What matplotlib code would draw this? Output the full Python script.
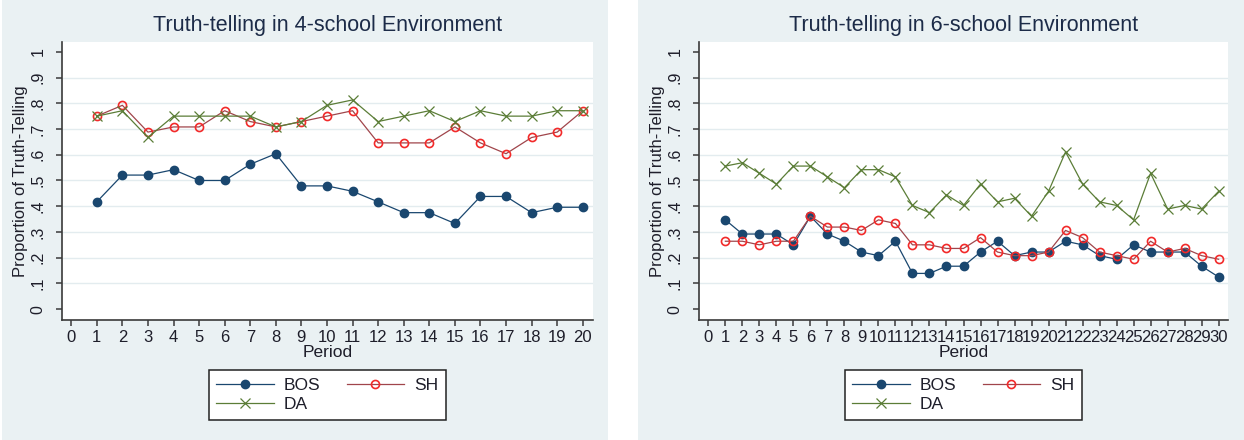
import matplotlib
matplotlib.use("Agg")
import matplotlib.pyplot as plt
from matplotlib.patches import Rectangle

# ---------------- data ----------------
periods4 = list(range(1, 21))
bos4 = [0.417, 0.521, 0.521, 0.542, 0.500, 0.500, 0.563, 0.604, 0.479, 0.479,
        0.458, 0.417, 0.375, 0.375, 0.333, 0.438, 0.438, 0.375, 0.396, 0.396]
sh4 = [0.750, 0.792, 0.688, 0.708, 0.708, 0.771, 0.729, 0.708, 0.729, 0.750,
       0.771, 0.646, 0.646, 0.646, 0.708, 0.646, 0.604, 0.667, 0.688, 0.771]
da4 = [0.750, 0.771, 0.667, 0.750, 0.750, 0.750, 0.750, 0.708, 0.729, 0.792,
       0.813, 0.729, 0.750, 0.771, 0.729, 0.771, 0.750, 0.750, 0.771, 0.771]

periods6 = list(range(1, 31))
bos6 = [0.347, 0.292, 0.292, 0.292, 0.250, 0.361, 0.292, 0.264, 0.222, 0.208,
        0.264, 0.139, 0.139, 0.167, 0.167, 0.222, 0.264, 0.208, 0.222, 0.222,
        0.264, 0.250, 0.208, 0.194, 0.250, 0.222, 0.222, 0.222, 0.167, 0.125]
sh6 = [0.264, 0.264, 0.250, 0.264, 0.264, 0.361, 0.319, 0.319, 0.306, 0.347,
       0.333, 0.250, 0.250, 0.236, 0.236, 0.278, 0.222, 0.208, 0.208, 0.222,
       0.306, 0.278, 0.222, 0.208, 0.194, 0.264, 0.222, 0.236, 0.208, 0.194]
da6 = [0.556, 0.569, 0.528, 0.486, 0.556, 0.556, 0.514, 0.472, 0.542, 0.542,
       0.514, 0.403, 0.375, 0.444, 0.403, 0.486, 0.417, 0.431, 0.361, 0.458,
       0.611, 0.486, 0.417, 0.403, 0.347, 0.528, 0.389, 0.403, 0.389, 0.458]

titles = ["Truth-telling in 4-school Environment",
          "Truth-telling in 6-school Environment"]
series_names = ["BOS", "SH", "DA"]
ytick_vals = [0, 0.1, 0.2, 0.3, 0.4, 0.5, 0.6, 0.7, 0.8, 0.9, 1.0]
ytick_labels = ["0", ".1", ".2", ".3", ".4", ".5", ".6", ".7", ".8", ".9", "1"]

# ---------------- style ----------------
plt.rcParams["font.family"] = ["Liberation Sans", "DejaVu Sans"]
BG = "#eaf1f3"
GRID = "#e3ecef"
AXC = "#3a3a3a"
TXT = "#1e1e2a"
TITLEC = "#1c2b48"
C_BOS = "#1a476f"
C_SH_LINE = "#a0454b"
C_SH_MK = "#f22a2a"
C_DA = "#5b7d37"

W, H = 1244, 440
fig = plt.figure(figsize=(W / 100, H / 100), dpi=100)
fig.patch.set_facecolor("white")

# panel backgrounds
fig.add_artist(Rectangle((2 / W, 0), (608 - 2) / W, 1, transform=fig.transFigure,
                         facecolor=BG, edgecolor="none", zorder=0))
fig.add_artist(Rectangle((638 / W, 0), (W - 638) / W, 1, transform=fig.transFigure,
                         facecolor=BG, edgecolor="none", zorder=0))

panels = [
    dict(px=(62, 593), xlim=(-0.36, 20.4), x=periods4, bos=bos4, sh=sh4, da=da4,
         nt=20, title=titles[0]),
    dict(px=(699, 1228), xlim=(-0.55, 30.55), x=periods6, bos=bos6, sh=sh6, da=da6,
         nt=30, title=titles[1]),
]
top_px, bot_px = 42, 320

for p in panels:
    x0, x1 = p["px"]
    ax = fig.add_axes([x0 / W, 1 - bot_px / H, (x1 - x0) / W, (bot_px - top_px) / H])
    ax.set_facecolor("white")
    ax.set_xlim(*p["xlim"])
    ax.set_ylim(-0.042, 1.038)
    for g in ytick_vals[1:-1]:
        ax.axhline(g, color=GRID, lw=1.0, zorder=0.5)

    l1, = ax.plot(p["x"], p["bos"], color=C_BOS, lw=0.9, marker="o", ms=6,
                  mfc=C_BOS, mec=C_BOS, zorder=3, label=series_names[0])
    l2, = ax.plot(p["x"], p["sh"], color=C_SH_LINE, lw=0.9, marker="o", ms=5.8,
                  mfc="none", mec=C_SH_MK, mew=1.2, zorder=4, label=series_names[1])
    l3, = ax.plot(p["x"], p["da"], color=C_DA, lw=0.9, marker="x", ms=6.5,
                  mec=C_DA, mew=0.9, zorder=5, label=series_names[2])

    for s in ["top", "right"]:
        ax.spines[s].set_visible(False)
    for s in ["left", "bottom"]:
        ax.spines[s].set_color(AXC)
        ax.spines[s].set_linewidth(1.2)

    ax.set_yticks(ytick_vals)
    ax.set_yticklabels(ytick_labels, rotation=90, va="center")
    ax.set_xticks(list(range(0, p["nt"] + 1)))
    ax.tick_params(axis="both", direction="out", length=4, width=1.1, color=AXC)
    ax.tick_params(axis="y", labelsize=11.5, pad=8, labelcolor=TXT)
    ax.tick_params(axis="x", labelsize=12, pad=3, labelcolor=TXT)

    ax.set_xlabel("Period", fontsize=12.5, color=TXT, labelpad=0)
    ax.set_ylabel("Proportion of Truth-Telling", fontsize=12, color=TXT, labelpad=2)
    ax.set_title(p["title"], fontsize=15.5, color=TITLEC, pad=8)

    cx = (x0 + x1) / 2 / W
    leg = fig.legend([l1, l3, l2], [series_names[0], series_names[2], series_names[1]],
                     ncol=2, loc="center", bbox_to_anchor=(cx, 1 - 395 / H),
                     bbox_transform=fig.transFigure, frameon=True, fancybox=False,
                     edgecolor="#222222", facecolor="white", framealpha=1,
                     fontsize=12.5, handlelength=3.3, handletextpad=0.6,
                     columnspacing=1.5, labelspacing=0.2, borderpad=0.45,
                     numpoints=1, labelcolor=TXT)
    leg.get_frame().set_linewidth(1.1)

fig.savefig("out.png", dpi=100, facecolor=fig.get_facecolor())
